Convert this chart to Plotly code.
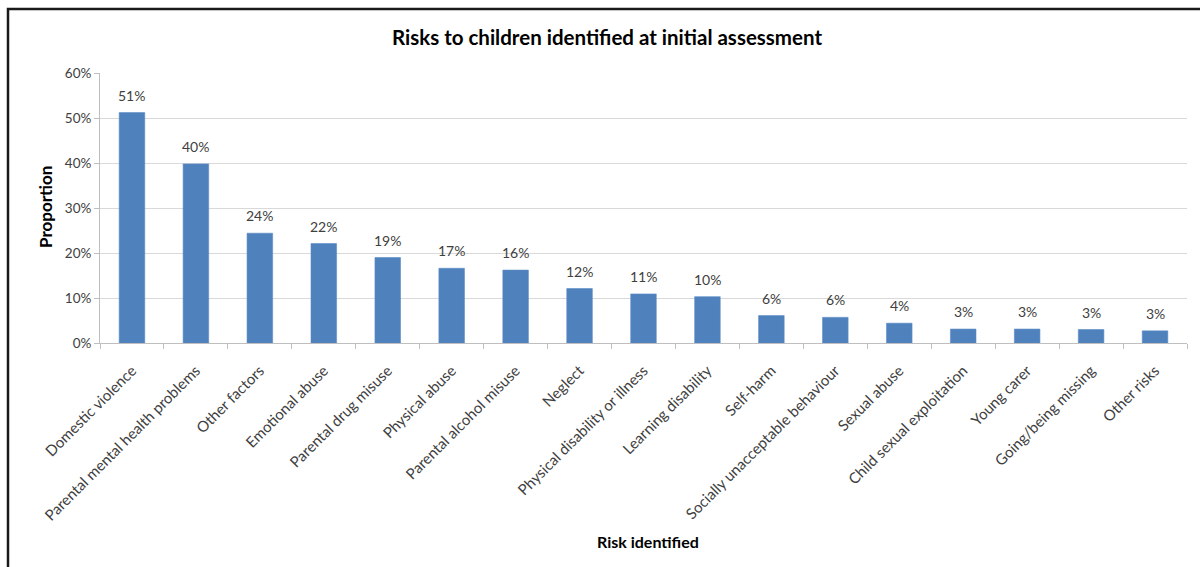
import plotly.graph_objects as go

# Risk categories and the share of children for whom each was identified
risks = [
    "Domestic violence",
    "Parental mental health problems",
    "Other factors",
    "Emotional abuse",
    "Parental drug misuse",
    "Physical abuse",
    "Parental alcohol misuse",
    "Neglect",
    "Physical disability or illness",
    "Learning disability",
    "Self-harm",
    "Socially unacceptable behaviour",
    "Sexual abuse",
    "Child sexual exploitation",
    "Young carer",
    "Going/being missing",
    "Other risks",
]
proportions = [
    0.512, 0.398, 0.244, 0.221, 0.190, 0.166, 0.162, 0.121, 0.109,
    0.103, 0.061, 0.057, 0.044, 0.031, 0.031, 0.030, 0.027,
]
y_ticks = [0, 0.1, 0.2, 0.3, 0.4, 0.5, 0.6]

FONT = "Lato, 'Noto Sans', sans-serif"
BAR = "#4f81bd"
GRID = "#d9d9d9"
AXIS = "#bfbfbf"
TEXT = "#404040"

# plot area in pixels (used for the frame shape in paper units)
W, H = 1200, 567
L, R, T, B = 100, 13, 73, 224
pw, ph = W - L - R, H - T - B

fig = go.Figure()
fig.add_trace(go.Bar(
    x=risks,
    y=proportions,
    marker=dict(color=BAR, line=dict(color="#5b8cc6", width=0.6)),
    hoverinfo="x+y",
))

# value labels above each bar
for r, p in zip(risks, proportions):
    fig.add_annotation(
        x=r, y=p, text=f"{p:.0%}", showarrow=False,
        yanchor="bottom", yshift=7,
        font=dict(family=FONT, size=14, color=TEXT),
    )

# axis titles
fig.add_annotation(
    x=(648 - L) / pw, y=(H - 541 - B) / ph, xref="paper", yref="paper",
    text="<b>Risk identified</b>", showarrow=False,
    xanchor="center", yanchor="middle",
    font=dict(family=FONT, size=16, color="black"),
)
fig.add_annotation(
    x=(45 - L) / pw, y=(H - B - 207) / ph, xref="paper", yref="paper",
    text="<b>Proportion</b>", showarrow=False, textangle=-90,
    xanchor="center", yanchor="middle",
    font=dict(family=FONT, size=17, color="black"),
)

# chart frame (left and top edges)
fx = (8 - L) / pw
fy = (H - B - 9) / ph
fig.add_shape(
    type="path", xref="paper", yref="paper",
    path=f"M {fx} {-B / ph - 0.1} L {fx} {fy} L {1 + 0.2} {fy}",
    line=dict(color="#1a1a1a", width=2.5),
)

fig.update_layout(
    width=W, height=H,
    margin=dict(l=L, r=R, t=T, b=B),
    paper_bgcolor="white",
    plot_bgcolor="white",
    bargap=0.6,
    showlegend=False,
    title=dict(
        text="<b>Risks to children identified at initial assessment</b>",
        x=607 / W, xanchor="center",
        y=1 - 38 / H, yanchor="middle",
        font=dict(family=FONT, size=20.5, color="black"),
    ),
    font=dict(family=FONT, size=13, color=TEXT),
)
fig.update_xaxes(
    type="category",
    tickangle=-45,
    showline=True, linecolor=AXIS, linewidth=1,
    ticks="outside", tickson="boundaries", ticklen=5, tickcolor=AXIS,
    ticklabelstandoff=12,
    showgrid=False,
    tickfont=dict(family=FONT, size=15, color=TEXT),
)
fig.update_yaxes(
    range=[0, 0.6],
    tickvals=y_ticks,
    tickformat=".0%",
    showgrid=True, gridcolor=GRID, gridwidth=1,
    showline=True, linecolor=AXIS, linewidth=1,
    ticks="outside", ticklen=5, tickcolor=AXIS,
    zeroline=False,
    tickfont=dict(family=FONT, size=13.5, color=TEXT),
)

fig.write_html("out.html")
